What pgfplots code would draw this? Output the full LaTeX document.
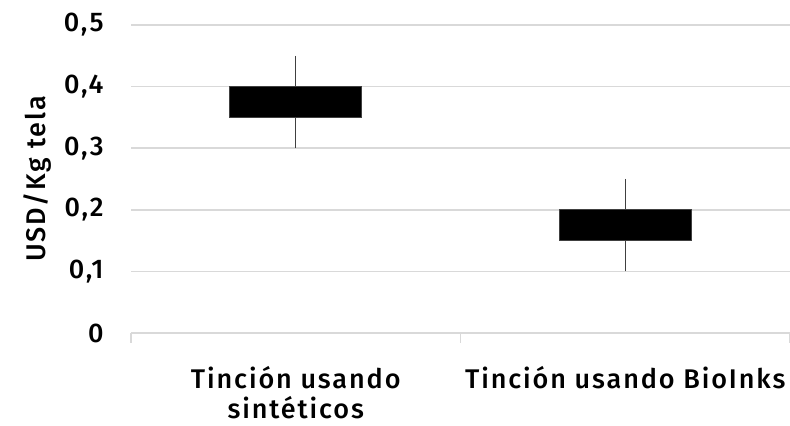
\documentclass[border=0pt]{standalone}
\usepackage{fontspec}
\setmainfont{Fira Sans Medium}[LetterSpace=7]
\usepackage{pgfplots}
\pgfplotsset{compat=1.18}
\usepgfplotslibrary{statistics}
\definecolor{gridgray}{HTML}{D9D9D9}
\definecolor{edgegray}{HTML}{404040}
\newcommand{\lblfont}{\fontsize{13.5pt}{15pt}\selectfont}
\begin{document}
\lblfont
\begin{tikzpicture}
\begin{axis}[
  scale only axis,
  width=329.5pt, height=154pt,
  xmin=0, xmax=2, ymin=0, ymax=0.5,
  axis line style={draw=none},
  axis x line*=bottom,
  ytick={0,0.1,0.2,0.3,0.4,0.5},
  ymajorgrids, grid style={gridgray, line width=0.75pt},
  major tick length=0pt,
  xtick={0.5,1.5},
  xticklabels={{Tinción usando\\sintéticos},{Tinción usando BioInks}},
  xticklabel style={align=center, yshift=-12pt, font=\lblfont},
  minor xtick={0,1,2},
  minor tick length=5pt,
  tick align=outside,
  minor tick style={gridgray, line width=0.75pt},
  every tick/.style={gridgray},
  yticklabel style={xshift=-9pt, font=\lblfont},
  /pgf/number format/assume math mode=true,
  yticklabel={\ifdim\tick pt=0pt 0\else\pgfmathprintnumber[fixed,fixed zerofill,precision=1,use comma]{\tick}\fi},
  ylabel={USD/Kg tela},
  every axis y label/.style={at={(axis description cs:0,0.5)}, xshift=-47pt, anchor=center, rotate=90, font=\lblfont},
  boxplot/draw direction=y,
  boxplot/whisker extend=0,
  boxplot/box extend=0.4,
  boxplot/draw/median/.code={},
  clip=false,
]
\draw[gridgray, line width=0.75pt] (axis cs:0,0) -- (axis cs:2,0);
\addplot[fill=black, draw=edgegray, line width=0.6pt,
  boxplot prepared={draw position=0.5, lower whisker=0.30, lower quartile=0.35,
    median=0.375, upper quartile=0.40, upper whisker=0.45}]
  coordinates {};
\addplot[fill=black, draw=edgegray, line width=0.6pt,
  boxplot prepared={draw position=1.5, lower whisker=0.10, lower quartile=0.15,
    median=0.175, upper quartile=0.20, upper whisker=0.25}]
  coordinates {};
\end{axis}
\pgfresetboundingbox
\path[use as bounding box] ([shift={(-65.5pt,-46.5pt)}]current axis.south west) rectangle ([shift={(0pt,12.5pt)}]current axis.north east);
\end{tikzpicture}
\end{document}
